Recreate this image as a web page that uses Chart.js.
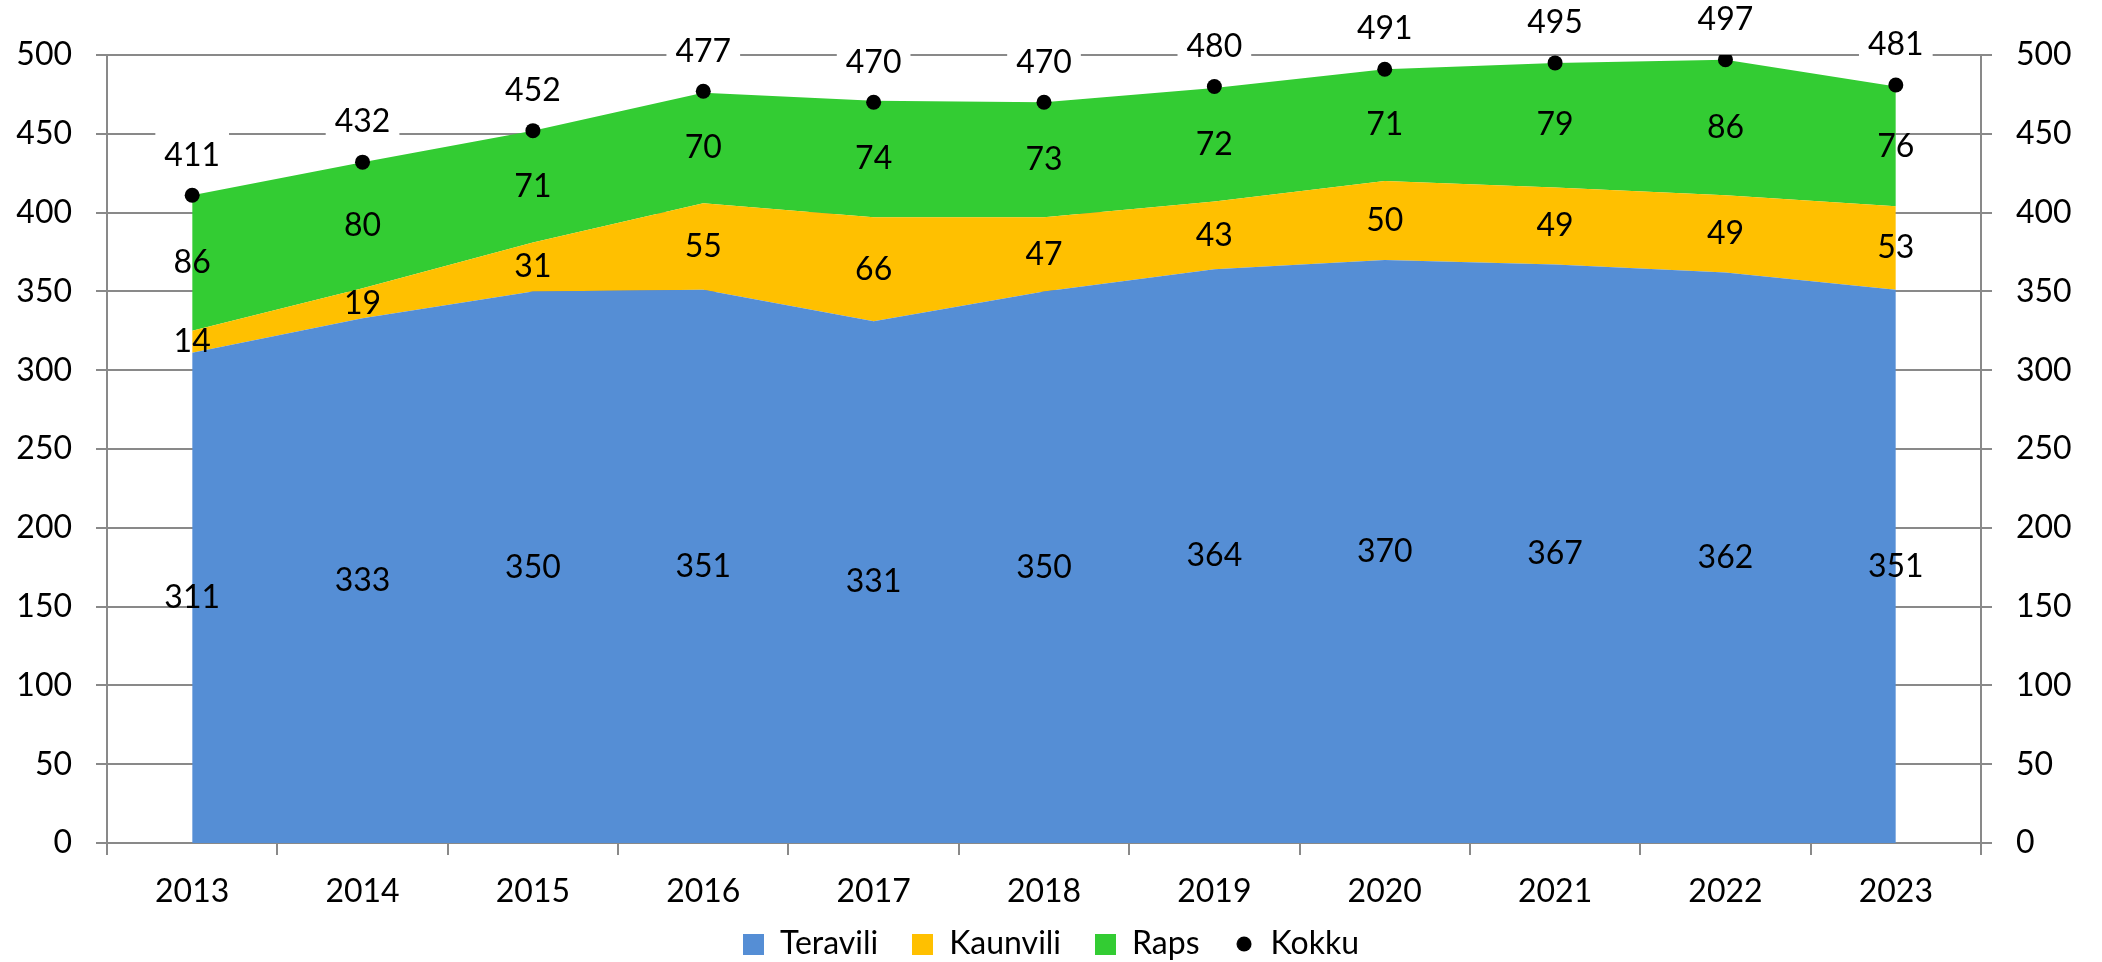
<!DOCTYPE html>
<html lang="et">
<head>
  <meta charset="UTF-8">
  <title>Teravili, Kaunvili, Raps</title>
  <script src="https://cdn.jsdelivr.net/npm/chart.js"></script>
  <style>
    body { margin: 0; background: #fff; }
    canvas { display: block; }
  </style>
</head>
<body>
  <canvas id="chart" width="2102" height="962"></canvas>
  <script>
    const years = ['2013', '2014', '2015', '2016', '2017', '2018', '2019', '2020', '2021', '2022', '2023'];
    const teravili = [311, 333, 350, 351, 331, 350, 364, 370, 367, 362, 351];
    const kaunvili = [14, 19, 31, 55, 66, 47, 43, 50, 49, 49, 53];
    const raps = [86, 80, 71, 70, 74, 73, 72, 71, 79, 86, 76];
    const kokku = [411, 432, 452, 477, 470, 470, 480, 491, 495, 497, 481];

    const BLUE = '#558ED5', YELLOW = '#FFC000', GREEN = '#33CC33';
    const GRID = '#898989';

    Chart.defaults.font.family = 'Lato';
    Chart.defaults.font.size = 32;
    Chart.defaults.color = '#000';

    // legend icons: squares for the areas, a small dot for Kokku
    function squareIcon(color) {
      const c = document.createElement('canvas');
      c.width = 21; c.height = 21;
      const g = c.getContext('2d');
      g.fillStyle = color;
      g.fillRect(0, 0, 21, 21);
      return c;
    }
    function dotIcon() {
      const c = document.createElement('canvas');
      c.width = 16; c.height = 16;
      const g = c.getContext('2d');
      g.fillStyle = '#000';
      g.beginPath();
      g.arc(8, 8, 7.5, 0, Math.PI * 2);
      g.fill();
      return c;
    }
    const legendIcons = [squareIcon(BLUE), squareIcon(YELLOW), squareIcon(GREEN), dotIcon()];

    // value labels: centred in each band, totals above the dots on a white box
    const valueLabels = {
      id: 'valueLabels',
      afterLayout(chart) {
        // pull the legend up a little, the x labels need their full box
        chart.legend.top -= 19;
        chart.legend.bottom -= 19;
      },
      afterDatasetsDraw(chart) {
        const ctx = chart.ctx;
        const zero = chart.scales.y.getPixelForValue(0);
        ctx.save();
        ctx.font = '32px Lato';
        ctx.textAlign = 'center';
        ctx.textBaseline = 'middle';
        [0, 1, 2].forEach(di => {
          const meta = chart.getDatasetMeta(di);
          const below = di > 0 ? chart.getDatasetMeta(di - 1) : null;
          meta.data.forEach((pt, j) => {
            const base = below ? below.data[j].y : zero;
            ctx.fillStyle = '#000';
            ctx.fillText(String(chart.data.datasets[di].data[j]), pt.x, (pt.y + base) / 2);
          });
        });
        chart.getDatasetMeta(3).data.forEach((pt, j) => {
          const txt = String(kokku[j]);
          const w = ctx.measureText(txt).width + 18;
          const y = pt.y - 40;
          ctx.fillStyle = '#fff';
          ctx.fillRect(pt.x - w / 2, y - 24, w, 48);
          ctx.fillStyle = '#000';
          ctx.fillText(txt, pt.x, y);
        });
        ctx.restore();
      }
    };

    const area = (label, data, color, fill, order) => ({
      label, data, order, fill,
      backgroundColor: color,
      borderColor: 'transparent',
      borderWidth: 0,
      pointRadius: 0,
      yAxisID: 'y'
    });

    new Chart(document.getElementById('chart'), {
      type: 'line',
      data: {
        labels: years,
        datasets: [
          area('Teravili', teravili, BLUE, 'origin', 1),
          area('Kaunvili', kaunvili, YELLOW, '-1', 2),
          area('Raps', raps, GREEN, '-1', 3),
          {
            label: 'Kokku', data: kokku, order: 0,
            showLine: false, fill: false,
            pointStyle: 'circle', pointRadius: 7.5,
            pointBackgroundColor: '#000', pointBorderWidth: 0,
            backgroundColor: '#000', borderColor: '#000',
            yAxisID: 'y2'
          }
        ]
      },
      options: {
        responsive: false,
        animation: false,
        events: [],
        layout: { padding: { top: 55, left: 0, right: 0, bottom: -27 } },
        scales: {
          x: {
            offset: true,
            grid: { offset: true, drawOnChartArea: false, tickLength: 12, color: GRID, lineWidth: 2 },
            border: { display: true, color: GRID, width: 2 },
            ticks: { padding: 17 },
            afterFit(s) { s.height = 70; }
          },
          y: {
            stacked: true, min: 0, max: 500,
            ticks: { stepSize: 50, padding: 24 },
            grid: { color: GRID, lineWidth: 2, tickLength: 11 },
            border: { display: true, color: GRID, width: 2 },
            afterFit(s) { s.width = 107; }
          },
          y2: {
            position: 'right', stacked: false, min: 0, max: 500,
            ticks: { stepSize: 50, padding: 24 },
            grid: { drawOnChartArea: false, color: GRID, lineWidth: 2, tickLength: 11 },
            border: { display: true, color: GRID, width: 2 },
            afterFit(s) { s.width = 121; }
          }
        },
        plugins: {
          tooltip: { enabled: false },
          legend: {
            position: 'bottom',
            labels: {
              usePointStyle: true,
              boxWidth: 21, boxHeight: 21,
              padding: 34,
              color: '#000',
              font: { size: 32 },
              generateLabels(chart) {
                const items = Chart.defaults.plugins.legend.labels.generateLabels(chart);
                items.sort((a, b) => a.datasetIndex - b.datasetIndex);
                items.forEach(it => { it.pointStyle = legendIcons[it.datasetIndex]; });
                return items;
              }
            }
          }
        }
      },
      plugins: [valueLabels]
    });
  </script>
</body>
</html>
